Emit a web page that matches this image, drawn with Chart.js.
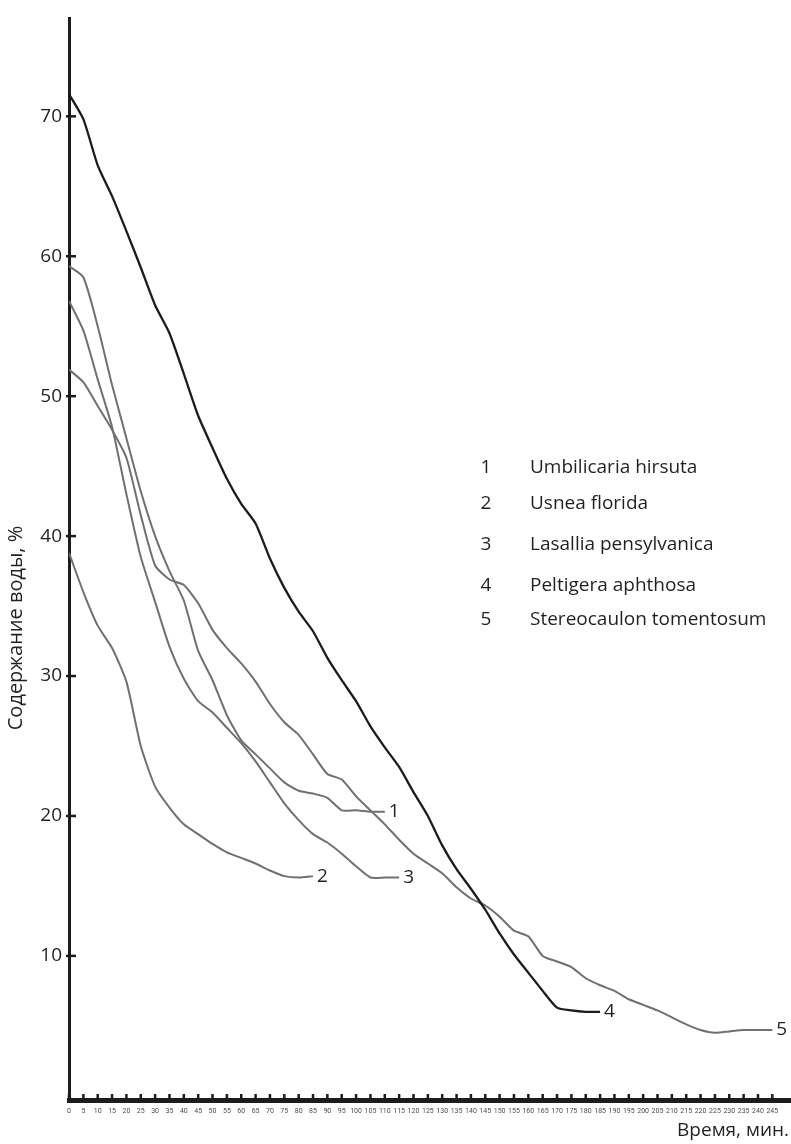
<!DOCTYPE html>
<html>
<head>
<meta charset="utf-8">
<script src="https://cdn.jsdelivr.net/npm/chart.js@4.4.1/dist/chart.umd.min.js"></script>
<style>
  html, body { margin: 0; padding: 0; background: #fff; }
  #wrap { width: 791px; height: 1144px; }
</style>
</head>
<body>
<div id="wrap"><canvas id="dryChart" width="791" height="1144"></canvas></div>
<script>
// Время, мин. (шаг 5 мин)
const minutes = [0,5,10,15,20,25,30,35,40,45,50,55,60,65,70,75,80,85,90,95,100,105,110,115,120,
  125,130,135,140,145,150,155,160,165,170,175,180,185,190,195,200,205,210,215,220,225,230,235,240,245]

const speciesNames = ['Umbilicaria hirsuta', 'Usnea florida', 'Lasallia pensylvanica', 'Peltigera aphthosa', 'Stereocaulon tomentosum']
const curveNumbers = ['1', '2', '3', '4', '5']
const yTickValues = [10, 20, 30, 40, 50, 60, 70]
const xTickValues = minutes

// water content, %
const umbilicaria = [59.3,58.5,55.0,50.8,47.0,43.2,40.0,37.5,35.4,31.8,29.7,27.2,25.4,24.4,23.4,22.4,21.8,21.6,21.3,20.4,20.4,20.3,20.3]
const usnea = [38.8,36.0,33.6,32.0,29.6,25.0,22.1,20.6,19.4,18.7,18.0,17.4,17.0,16.6,16.1,15.7,15.6,15.7]
const lasallia = [56.8,54.7,51.2,47.8,43.0,38.5,35.3,32.1,29.8,28.2,27.4,26.3,25.2,23.9,22.4,20.9,19.7,18.7,18.1,17.3,16.4,15.6,15.6,15.6]
const peltigera = [71.6,69.8,66.5,64.3,61.8,59.2,56.5,54.5,51.6,48.6,46.3,44.1,42.3,40.9,38.4,36.3,34.6,33.2,31.3,29.7,28.2,26.4,24.9,
  23.5,21.7,20.0,17.9,16.2,14.8,13.3,11.6,10.1,8.8,7.5,6.3,6.1,6.0,6.0]
const stereocaulon = [51.9,51.0,49.3,47.6,45.6,41.5,37.9,36.9,36.5,35.2,33.3,32.0,30.9,29.6,28.0,26.7,25.8,24.4,23.0,22.6,
  21.4,20.4,19.4,18.3,17.3,16.6,15.9,14.9,14.1,13.6,12.8,11.8,11.4,10.0,9.6,9.2,8.4,7.9,7.5,6.9,
  6.5,6.1,5.6,5.1,4.7,4.5,4.6,4.7,4.7,4.7]

const series = [umbilicaria, usnea, lasallia, peltigera, stereocaulon]

const inkBlack = '#1d1b1c'
const inkGray = '#707070'
const textFont = '"Open Sans", "Noto Sans", sans-serif'

// small marks crossing the axes
const axisMarks = {
  id: 'axisMarks',
  afterDraw(chart) {
    const { ctx, chartArea } = chart
    const { x, y } = chart.scales
    ctx.save()
    ctx.strokeStyle = inkBlack
    ctx.lineWidth = 2.5
    yTickValues.forEach(v => {
      const py = y.getPixelForValue(v)
      ctx.beginPath(); ctx.moveTo(chartArea.left - 3, py); ctx.lineTo(chartArea.left + 7, py); ctx.stroke()
    })
    xTickValues.forEach(v => {
      const px = x.getPixelForValue(v)
      ctx.beginPath(); ctx.moveTo(px, chartArea.bottom - 6); ctx.lineTo(px, chartArea.bottom); ctx.stroke()
    })
    ctx.restore()
  }
}

// curve numbers at the end of each line
const endLabels = {
  id: 'endLabels',
  afterDatasetsDraw(chart) {
    const ctx = chart.ctx
    ctx.save()
    ctx.font = '19px ' + textFont
    ctx.fillStyle = '#231f20'
    ctx.textAlign = 'left'
    ctx.textBaseline = 'middle'
    chart.data.datasets.forEach((ds, i) => {
      const pts = chart.getDatasetMeta(i).data
      const last = pts[pts.length - 1]
      ctx.fillText(curveNumbers[i], last.x + 4, last.y)
    })
    ctx.restore()
  }
}

// numbered species list + axis titles
const notes = {
  id: 'notes',
  afterDraw(chart) {
    const ctx = chart.ctx
    const rows = [468, 504, 545, 586, 620]
    ctx.save()
    ctx.fillStyle = '#231f20'
    ctx.font = '19px ' + textFont
    ctx.textBaseline = 'middle'
    speciesNames.forEach((name, i) => {
      ctx.textAlign = 'center'
      ctx.fillText(curveNumbers[i], 486, rows[i])
      ctx.textAlign = 'left'
      ctx.fillText(name, 530, rows[i])
    })
    ctx.textAlign = 'right'
    ctx.fillText('Время, мин.', 789, 1131)
    ctx.font = '20px ' + textFont
    ctx.translate(16, 628)
    ctx.rotate(-Math.PI / 2)
    ctx.textAlign = 'center'
    ctx.fillText('Содержание воды, %', 0, 0)
    ctx.restore()
  }
}

const datasets = series.map((vals, i) => ({
  label: speciesNames[i],
  data: vals.map((v, j) => ({ x: minutes[j], y: v })),
  borderColor: i === 3 ? inkBlack : inkGray,
  borderWidth: i === 3 ? 2.3 : 2,
  pointRadius: 0,
  tension: 0.2,
  fill: false
}))

new Chart(document.getElementById('dryChart').getContext('2d'), {
  type: 'line',
  data: { datasets },
  options: {
    responsive: false,
    animation: false,
    layout: { padding: { top: 14, right: 0, bottom: 0, left: 0 } },
    plugins: { legend: { display: false }, tooltip: { enabled: false } },
    scales: {
      x: {
        type: 'linear',
        min: 0,
        max: 251.5,
        afterBuildTicks: s => { s.ticks = xTickValues.map(v => ({ value: v })) },
        afterFit: s => { s.height = 44 },
        border: { display: true, color: inkBlack, width: 5 },
        grid: { drawOnChartArea: false, drawTicks: false },
        ticks: { autoSkip: false, maxRotation: 0, minRotation: 0, padding: 7, color: '#4a4a4a', font: { family: 'Roboto', size: 7 } }
      },
      y: {
        min: -0.3,
        max: 77,
        afterBuildTicks: s => { s.ticks = yTickValues.map(v => ({ value: v })) },
        afterFit: s => { s.width = 69 },
        border: { display: true, color: inkBlack, width: 3 },
        grid: { drawOnChartArea: false, drawTicks: false },
        ticks: { padding: 7, color: '#231f20', font: { family: 'Open Sans', size: 19 } }
      }
    }
  },
  plugins: [axisMarks, endLabels, notes]
})
</script>
</body>
</html>
